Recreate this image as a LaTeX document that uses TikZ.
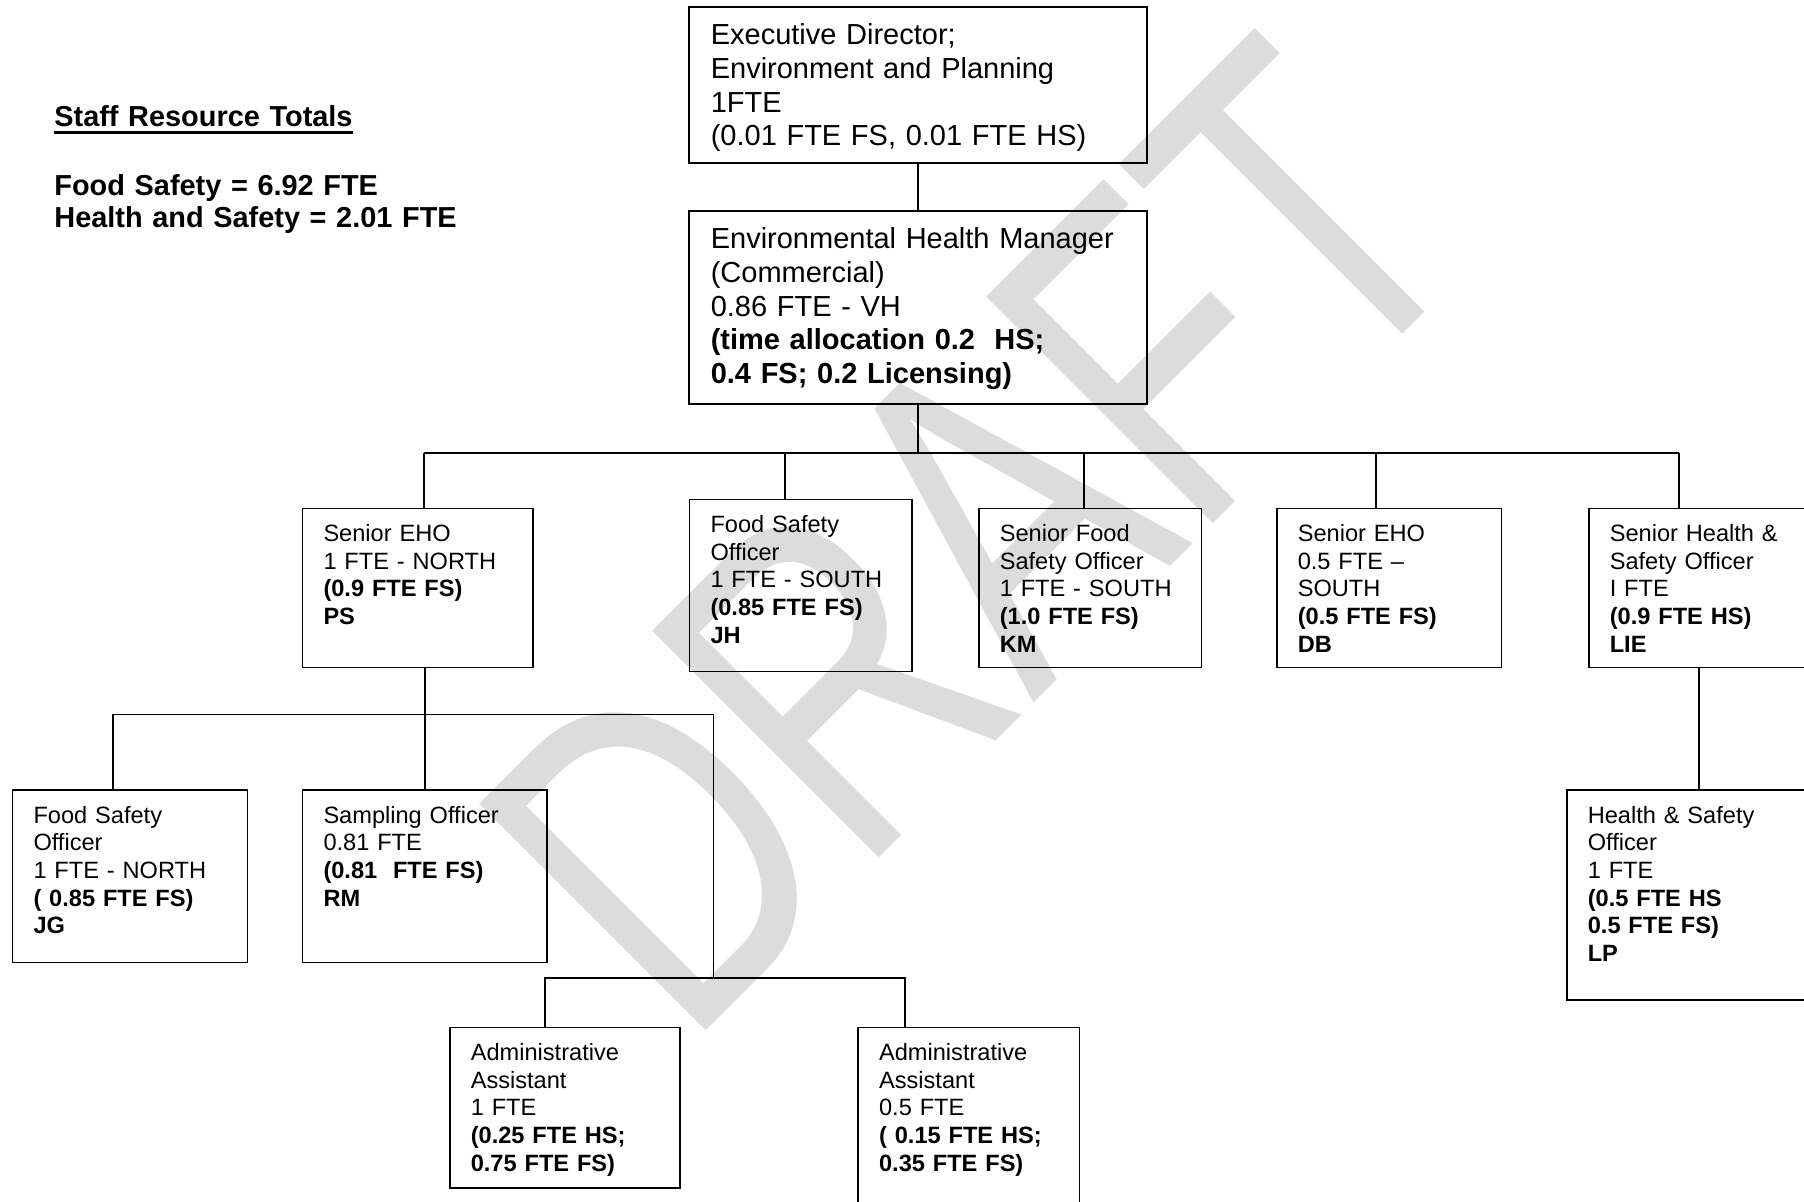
\documentclass[tikz,border=0pt]{standalone}
\usepackage{fontspec}
\usepackage{graphicx}
\setmainfont{Liberation Sans}
\usetikzlibrary{positioning,calc}

\definecolor{wmgray}{HTML}{DCDCDC}
\newcommand{\smallsize}{\fontsize{11.8pt}{13.85pt}\selectfont}
\newcommand{\bigsize}{\fontsize{14.5pt}{16.8pt}\selectfont}
\newcommand{\ulhead}[1]{\setbox0\hbox{#1}\rlap{\rule[-3.5pt]{\wd0}{1.3pt}}\box0}

\tikzset{
  box/.style={draw, line width=0.8pt, anchor=north west, align=left, inner xsep=10.5pt, inner ysep=0pt},
  post/.style 2 args={box, font=\smallsize, text width=#1, text height=16.5pt, text depth=#2},
  head/.style 2 args={box, font=\bigsize, inner xsep=11pt, text width=#1, text height=19pt, text depth=#2},
  link/.style={line width=0.8pt},
}

\begin{document}
\begin{tikzpicture}[x=0.5pt, y=-0.5pt]
  \useasboundingbox (0,0) rectangle (1804,1201);

  % watermark
  \node[rotate=45, anchor=base west, inner sep=0, text=wmgray, font=\fontsize{170pt}{170pt}\selectfont] (draft) at (686,1051) {\scalebox{1}[1.37]{DRAFT}};

  % totals
  \node[anchor=base west, inner sep=0, text width=250pt, align=left, font=\fontsize{14.45pt}{16.3pt}\selectfont\bfseries] (totals) at (54,126.7)
    {\ulhead{Staff Resource Totals}\\[17.85pt] Food Safety = 6.92 FTE\\ Health and Safety = 2.01 FTE};

  % management
  \node[head={207pt}{59pt}] (exec) at (688,6)
    {Executive Director;\\ Environment and Planning\\ 1FTE\\ (0.01 FTE FS, 0.01 FTE HS)};
  \node[head={207pt}{77.5pt}] (ehm) at (688,210)
    {Environmental Health Manager\\ (Commercial)\\ 0.86 FTE - VH\\ \textbf{(time allocation 0.2~~HS;}\\ \textbf{0.4 FS; 0.2 Licensing)}};

  % second row
  \node[post={94.3pt}{63pt}] (sehoN) at (301.7,507.7)
    {Senior EHO\\ 1 FTE - NORTH\\ \textbf{(0.9 FTE FS)}\\ \textbf{PS}};
  \node[post={90.2pt}{69.5pt}] (fsoS) at (688.7,498.7)
    {Food Safety\\ Officer\\ 1 FTE - SOUTH\\ \textbf{(0.85 FTE FS)}\\ \textbf{JH}};
  \node[post={90.4pt}{63pt}] (sfso) at (978,507.7)
    {Senior Food\\ Safety Officer\\ 1 FTE - SOUTH\\ \textbf{(1.0 FTE FS)}\\ \textbf{KM}};
  \node[post={91.4pt}{63pt}] (sehoS) at (1276,507.7)
    {Senior EHO\\ 0.5 FTE –\\ SOUTH\\ \textbf{(0.5 FTE FS)}\\ \textbf{DB}};
  \node[post={89pt}{63pt}] (shs) at (1588,507.7)
    {Senior Health \&\\ Safety Officer\\ I FTE\\ \textbf{(0.9 FTE HS)}\\ \textbf{LIE}};

  % third row
  \node[post={96.5pt}{69.7pt}] (jg) at (11.7,789.3)
    {Food Safety\\ Officer\\ 1 FTE - NORTH\\ \textbf{(~0.85 FTE FS)}\\ \textbf{JG}};
  \node[post={101.3pt}{69.7pt}] (samp) at (301.7,789.3)
    {Sampling Officer\\ 0.81 FTE\\ \textbf{(0.81~~FTE FS)}\\ \textbf{RM}};
  \node[post={111pt}{88.5pt}] (hso) at (1566,789.3)
    {Health \& Safety\\ Officer\\ 1 FTE\\ \textbf{(0.5 FTE HS}\\ \textbf{0.5 FTE FS)}\\ \textbf{LP}};

  % admin row
  \node[post={94.2pt}{63.8pt}] (adm1) at (449,1026.7)
    {Administrative\\ Assistant\\ 1 FTE\\ \textbf{(0.25 FTE HS;}\\ \textbf{0.75 FTE FS)}};
  \node[post={89.6pt}{78.5pt}] (adm2) at (857.3,1026.7)
    {Administrative\\ Assistant\\ 0.5 FTE\\ \textbf{(~0.15 FTE HS;}\\ \textbf{0.35 FTE FS)}};

  % bus points
  \coordinate (dA) at (424,453);
  \coordinate (dB) at (785,453);
  \coordinate (dC) at (1084,453);
  \coordinate (dD) at (1376,453);
  \coordinate (dE) at (1679,453);
  \coordinate (lbL) at (112.7,714.3);
  \coordinate (lbR) at (713.3,714.3);
  \coordinate (abL) at (545,977.7);
  \coordinate (abR) at (905,977.7);

  % top lines
  \draw[link] (exec.south) -- (ehm.north);
  \draw[link] (ehm.south) -- (ehm.south |- dA);
  \draw[link] (dA) -- (dE);
  \draw[link] (dA) -- (dA |- sehoN.north);
  \draw[link] (dB) -- (dB |- fsoS.north);
  \draw[link] (dC) -- (dC |- sfso.north);
  \draw[link] (dD) -- (dD |- sehoS.north);
  \draw[link] (dE) -- (dE |- shs.north);

  % north team
  \draw[link] (samp.north |- sehoN.south) -- (samp.north);
  \draw[link] (lbL |- jg.north) -- (lbL) -- (lbR) -- (lbR |- abL);
  \draw[link] (abL |- adm1.north) -- (abL) -- (abR) -- (abR |- adm2.north);

  % health and safety
  \draw[link] (shs.south) -- (shs.south |- hso.north);
\end{tikzpicture}
\end{document}
